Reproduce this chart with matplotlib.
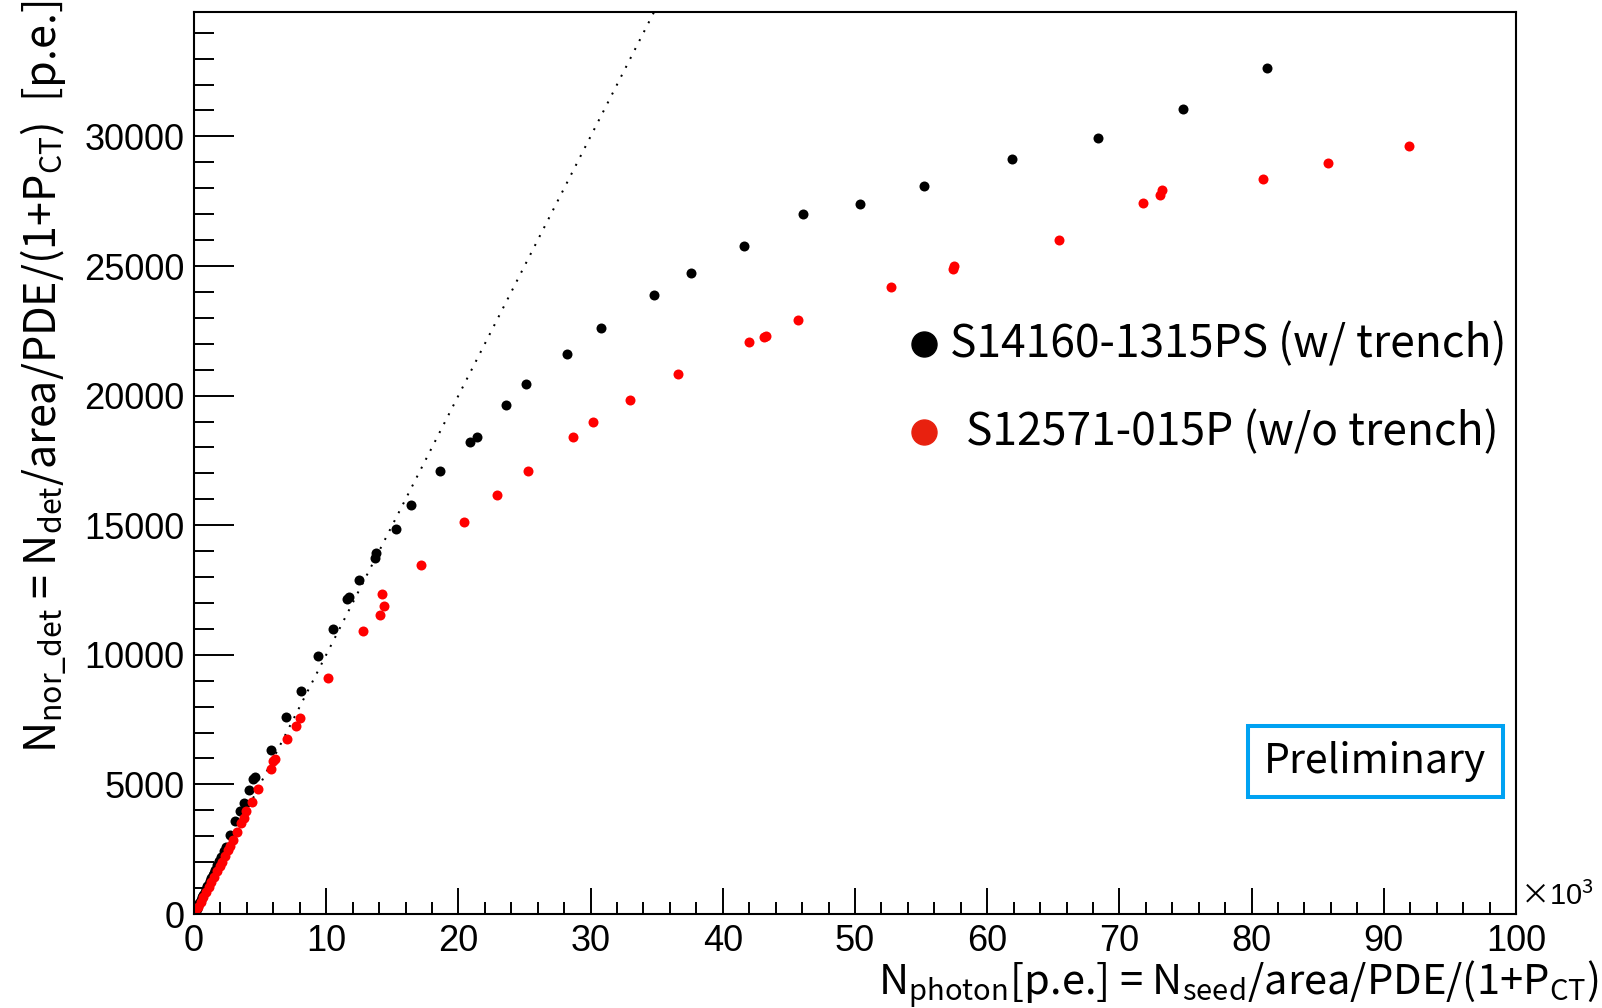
import matplotlib.pyplot as plt
from matplotlib.patches import Rectangle
from matplotlib.ticker import MultipleLocator

# fonts
plt.rcParams['font.family'] = ['Liberation Sans', 'DejaVu Sans']
plt.rcParams['mathtext.fontset'] = 'custom'
plt.rcParams['mathtext.rm'] = 'Noto Sans CJK JP'
plt.rcParams['mathtext.it'] = 'Noto Sans CJK JP'
lab_font = ['Noto Sans CJK JP', 'DejaVu Sans']

# S14160-1315PS (w/ trench), x in units of 10^3 p.e.
black_x = [0.05, 0.1, 0.2, 0.3, 0.4, 0.5, 0.6, 0.7, 0.8, 0.9, 1.0, 1.1, 1.2, 1.3, 1.4, 1.5,
           1.6, 1.75, 1.9, 2.06, 2.26, 2.41, 2.76, 3.12, 3.47, 3.77, 4.17, 4.48, 4.63,
           5.79, 6.95, 8.06, 9.37, 10.55, 11.6, 11.75, 12.5, 13.7, 13.8, 15.3, 16.4,
           18.6, 20.9, 21.4, 23.6, 25.1, 28.2, 30.8, 34.8, 37.6, 41.6, 46.1, 50.4,
           55.2, 61.9, 68.4, 74.8, 81.2]
black_y = [50, 110, 210, 320, 425, 530, 640, 750, 850, 960, 1070, 1170, 1280, 1390, 1500, 1600,
           1710, 1890, 2050, 2210, 2440, 2600, 3050, 3600, 3990, 4270, 4770, 5200, 5280,
           6320, 7590, 8620, 9950, 11010, 12150, 12230, 12890, 13730, 13920, 14850, 15790,
           17110, 18220, 18400, 19650, 20460, 21600, 22590, 23890, 24720, 25780, 27000, 27400,
           28080, 29140, 29950, 31060, 32640]

# S12571-015P (w/o trench)
red_x = [0.1, 0.3, 0.5, 0.7, 0.9, 1.1, 1.3, 1.5, 1.75, 1.95, 2.13, 2.35, 2.56, 2.75, 2.97,
         3.25, 3.52, 3.75, 3.97, 4.4, 4.86, 5.79, 5.94, 6.14, 7.02, 7.73, 8.03, 10.1,
         12.75, 14.1, 14.2, 14.4, 17.15, 20.4, 22.9, 25.3, 28.65, 30.2, 33.0, 36.6,
         42.0, 43.1, 43.3, 45.7, 52.7, 57.4, 57.5, 65.4, 71.8, 73.1, 73.2, 80.9, 85.8, 91.9]
red_y = [90, 280, 470, 660, 850, 1040, 1220, 1410, 1640, 1840, 2020, 2240, 2450, 2640, 2860,
         3150, 3500, 3720, 3960, 4340, 4840, 5590, 5910, 5970, 6770, 7240, 7580, 9100,
         10920, 11530, 12350, 11900, 13470, 15130, 16170, 17110, 18420, 18990, 19840, 20850,
         22080, 22270, 22310, 22900, 24200, 24880, 25010, 25990, 27430, 27730, 27950, 28370, 28990, 29640]

# y = x reference line
ref_x = [0, 40]
ref_y = [0, 40000]

legend_labels = ['S14160-1315PS (w/ trench)', 'S12571-015P (w/o trench)']

fig = plt.figure(figsize=(16.02, 10.08), dpi=100)
ax = fig.add_axes([194/1602, 1 - 914/1008, 1322/1602, 902/1008])

ax.plot(ref_x, ref_y, color='black', lw=1.44, linestyle=(0, (1, 4)))
ax.plot(black_x, black_y, 'o', color='black', ms=7.2, mew=0)
ax.plot(red_x, red_y, 'o', color='#ff0000', ms=7.2, mew=0)

ax.set_xlim(0, 100)
ax.set_ylim(0, 34800)
ax.xaxis.set_major_locator(MultipleLocator(10))
ax.xaxis.set_minor_locator(MultipleLocator(2))
ax.yaxis.set_major_locator(MultipleLocator(5000))
ax.yaxis.set_minor_locator(MultipleLocator(1000))

for s in ax.spines.values():
    s.set_linewidth(1.5)
ax.tick_params(which='both', direction='in', top=False, right=False, width=1.4, labelsize=26)
ax.tick_params(axis='y', which='major', length=29, pad=7)
ax.tick_params(axis='y', which='minor', length=14.4)
ax.tick_params(axis='x', which='major', length=18.7, pad=7)
ax.tick_params(axis='x', which='minor', length=8.6)

ax.text(1.003, 0.003, r'$\times$10$^{3}$', transform=ax.transAxes, fontsize=21,
        ha='left', va='bottom')

# axis titles
fig.text(0.998, 0.023, r'N$_{photon}$[p.e.] = N$_{seed}$/area/PDE/(1+P$_{CT}$)',
         ha='right', va='center', fontsize=30, family=lab_font)
fig.text(0.027, 1.0, r'N$_{nor\_det}$ = N$_{det}$/area/PDE/(1+P$_{CT}$)  [p.e.]',
         ha='center', va='top', rotation=90, fontsize=31, family=lab_font)

# legend drawn by hand
ax.plot([0.552], [0.632], 'o', color='black', ms=18, transform=ax.transAxes, clip_on=False)
ax.text(0.572, 0.632, legend_labels[0], transform=ax.transAxes, fontsize=32,
        ha='left', va='center', family=lab_font)
ax.plot([0.552], [0.534], 'o', color='#e8210f', ms=18, transform=ax.transAxes, clip_on=False)
ax.text(0.5836, 0.534, legend_labels[1], transform=ax.transAxes, fontsize=32,
        ha='left', va='center', family=lab_font)

# Preliminary box
ax.add_patch(Rectangle((0.797, 0.1294), 0.193, 0.0794, transform=ax.transAxes,
                       facecolor='white', edgecolor='#00a2f2', lw=2.9, zorder=5))
ax.text(0.8935, 0.169, 'Preliminary', transform=ax.transAxes, fontsize=29.5,
        ha='center', va='center', family=lab_font, zorder=6)

fig.savefig('out.png', dpi=100)
